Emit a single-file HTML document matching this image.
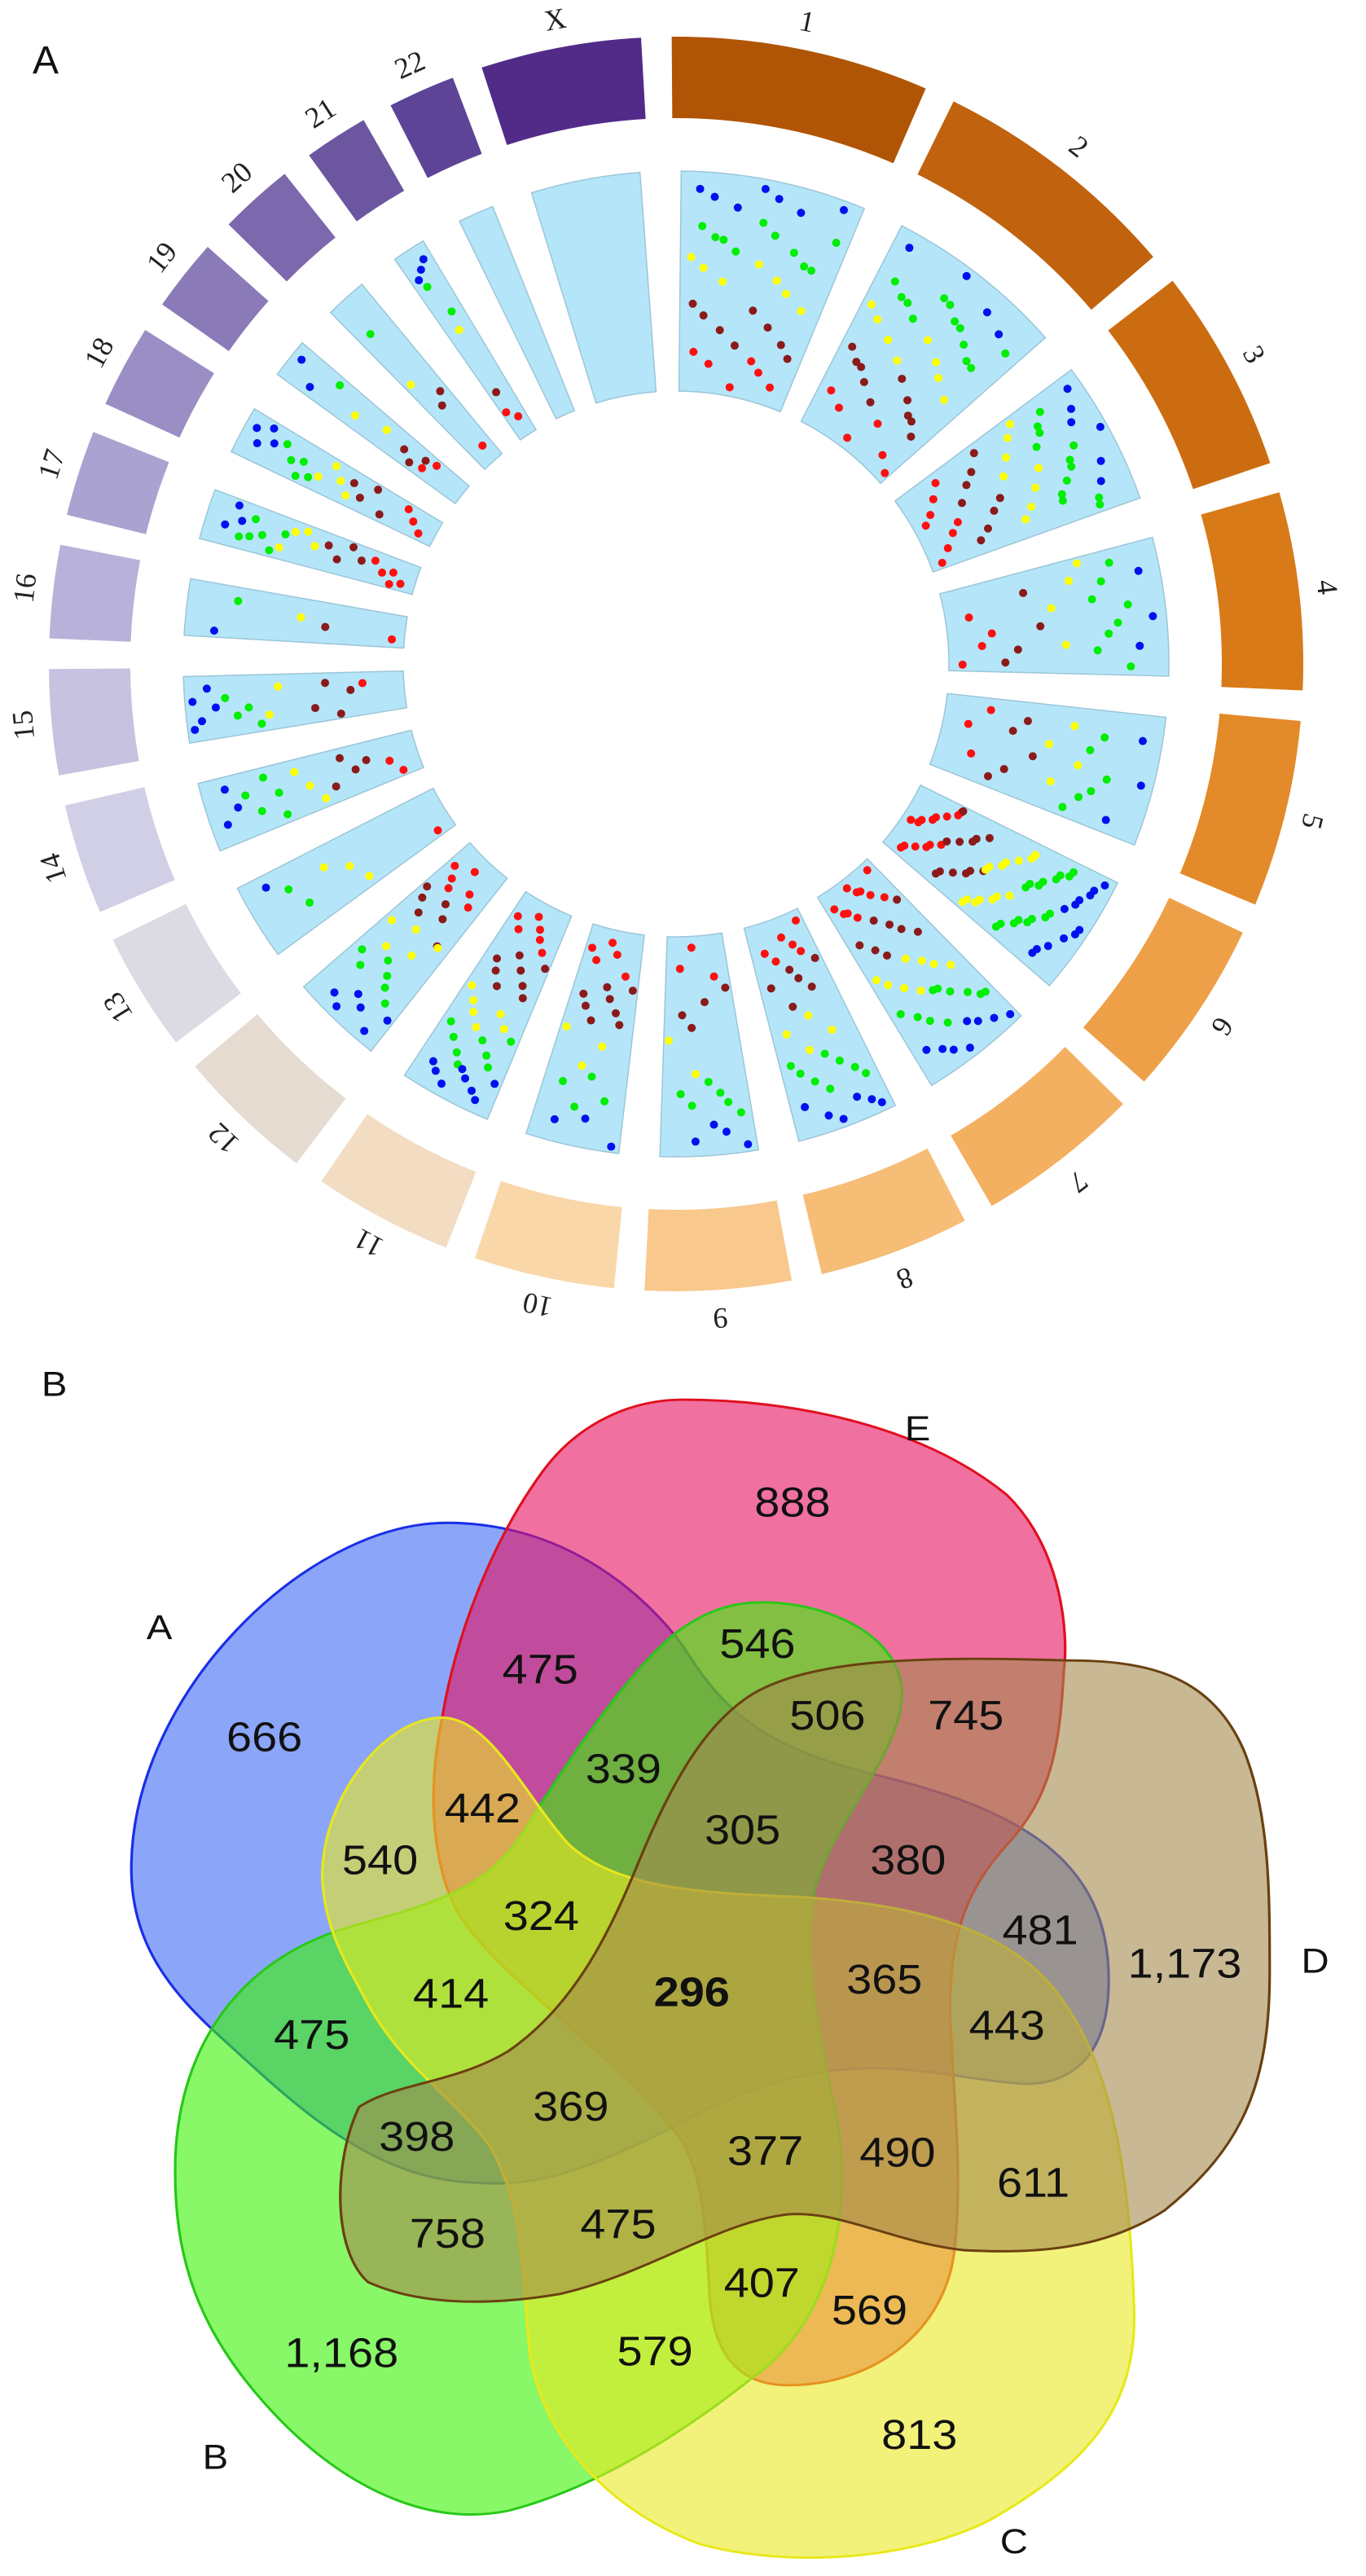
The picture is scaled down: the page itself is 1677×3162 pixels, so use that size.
<!DOCTYPE html>
<html><head><meta charset="utf-8">
<style>
html,body{margin:0;padding:0;background:#fff;}
body{width:1677px;height:3162px;position:relative;overflow:hidden;}
svg{position:absolute;left:0;}
.cl{font-family:"Liberation Serif",serif;font-size:36px;fill:#222;}
.vn{font-family:"Liberation Sans",sans-serif;font-size:52px;fill:#111;}
.vl{font-family:"Liberation Sans",sans-serif;font-size:44px;fill:#111;}
</style></head>
<body>
<svg id="circos" width="1677" height="1640" viewBox="0 0 1677 1640" style="top:0">
<text x="40" y="90" font-family="Liberation Sans, sans-serif" font-size="48" fill="#111">A</text>
<g id="ring"></g><g id="track"></g><g id="dots"></g><g id="labels"></g>
</svg>

<svg id="venn" width="1677" height="1522" viewBox="0 0 1560 1560" preserveAspectRatio="none" style="top:1640px">
<text x="62" y="60" class="vl" font-size="48" dominant-baseline="central" text-anchor="middle">B</text>
<g><path d="M150,670 C150,450 350,235 510,235 C650,235 740,330 780,390 C820,460 860,515 1000,552 C1150,592 1262,650 1266,800 C1270,930 1200,945 1160,940 C1050,930 950,880 760,1000 C650,1060 600,1070 540,1065 C420,1060 330,960 250,880 C190,820 150,760 150,670Z" fill="#3e6bf3" fill-opacity="0.6" stroke="#1a2ee8" stroke-width="3"/></g>
<g><path d="M780,80 C900,80 1050,110 1150,200 C1215,270 1220,380 1215,420 C1210,520 1200,580 1150,640 C1100,700 1085,760 1085,850 C1088,950 1100,1050 1090,1150 C1080,1250 1000,1320 900,1320 C830,1320 812,1260 810,1200 C805,1100 800,1040 770,1000 C700,900 560,800 520,720 C490,650 490,560 505,480 C520,380 560,260 620,170 C660,110 720,80 780,80Z" fill="#e61161" fill-opacity="0.6" stroke="#e01020" stroke-width="3"/></g>
<g><path d="M870,335 C950,335 1030,380 1030,450 C1030,520 960,600 935,680 C910,760 935,880 955,980 C975,1100 950,1240 860,1310 C780,1380 680,1450 580,1478 C480,1500 380,1440 300,1340 C220,1240 200,1150 200,1050 C200,900 270,780 410,740 C510,710 560,690 600,620 C650,530 720,420 770,375 C800,350 830,335 870,335Z" fill="#39f303" fill-opacity="0.6" stroke="#28c818" stroke-width="3"/></g>
<g><path d="M505,480 C560,480 600,580 650,640 C700,690 780,700 900,705 C1030,712 1150,740 1210,830 C1270,920 1290,1050 1295,1220 C1300,1350 1240,1420 1130,1490 C1040,1540 900,1550 800,1520 C700,1480 620,1390 605,1280 C595,1170 600,1100 560,1020 C520,960 460,920 420,840 C390,780 370,740 368,680 C368,580 440,480 505,480Z" fill="#e9e921" fill-opacity="0.6" stroke="#e8e81c" stroke-width="3"/></g>
<g><path d="M1215,408 C1300,408 1380,420 1420,520 C1450,600 1450,700 1450,800 C1450,940 1420,1020 1330,1100 C1260,1150 1180,1155 1100,1150 C1020,1140 960,1100 900,1105 C820,1115 740,1180 640,1205 C560,1220 480,1220 420,1190 C380,1150 380,1040 410,970 C450,940 520,940 580,900 C660,840 700,740 730,660 C760,580 800,490 860,450 C930,405 1060,403 1215,408Z" fill="#a3894d" fill-opacity="0.6" stroke="#6a4010" stroke-width="3"/></g>
<g id="vtext"></g>
<text x="182" y="366" class="vl" text-anchor="middle" dominant-baseline="central">A</text>
<text x="1048" y="116" class="vl" text-anchor="middle" dominant-baseline="central">E</text>
<text x="1502" y="786" class="vl" text-anchor="middle" dominant-baseline="central">D</text>
<text x="246" y="1410" class="vl" text-anchor="middle" dominant-baseline="central">B</text>
<text x="1158" y="1516" class="vl" text-anchor="middle" dominant-baseline="central">C</text>
</svg>

<script>
// ---- Circos data ----
const chromNames = ["1","2","3","4","5","6","7","8","9","10","11","12","13","14","15","16","17","18","19","20","21","22","X"];
const chromLengths = [249,243,198,191,181,171,159,146,141,136,135,134,115,107,102,90,83,80,70,72,62,65,155];
const chromColors = ["#b05505","#c0620e","#cc6c10","#d87a18","#e38a2a","#eea048","#f3b060","#f6bd76","#f8c88c","#fad7a8","#f2dcc2","#e6dbd0","#dcdae2","#d0cfe6","#c6c2e0","#b8b2da","#aaa2d0","#9a8ec4","#8a7ab8","#7c68ac","#6c56a0","#5e4496","#522a88"];
const redCounts    = [6,6,8,4,3,14,10,6,3,5,6,6,1,2,1,1,5,3,2,1,2,0,0];
const brownCounts  = [8,10,8,4,5,12,8,6,4,8,8,6,0,4,4,1,4,4,3,2,1,0,0];
const yellowCounts = [7,8,8,4,4,14,8,4,2,3,6,5,3,3,2,1,4,4,2,1,1,0,0];
const greenCounts  = [10,12,12,8,6,16,10,8,6,4,8,6,2,5,4,1,6,5,1,1,2,0,0];
const blueCounts   = [7,4,6,3,3,12,8,6,4,3,8,6,1,3,5,1,3,4,2,0,3,0,0];

const NS="http://www.w3.org/2000/svg";
const cx=830, cy=815, gap=2.8, start=-0.4;
function pol(r,a){const t=a*Math.PI/180;return [cx+r*Math.sin(t), cy-r*Math.cos(t)];}
function sector(r1,r2,a0,a1){
  const p1=pol(r2,a0),p2=pol(r2,a1),p3=pol(r1,a1),p4=pol(r1,a0);const lg=(a1-a0)>180?1:0;
  return `M${p1[0]},${p1[1]} A${r2},${r2} 0 ${lg} 1 ${p2[0]},${p2[1]} L${p3[0]},${p3[1]} A${r1},${r1} 0 ${lg} 0 ${p4[0]},${p4[1]} Z`;
}
const total=chromLengths.reduce((a,b)=>a+b,0);
const scale=(360-gap*chromNames.length)/total;
const ring=document.getElementById('ring'),track=document.getElementById('track'),dots=document.getElementById('dots'),labels=document.getElementById('labels');
const bands=[[redCounts,"#ff1010",345,395],[brownCounts,"#8b1a1a",395,455],[yellowCounts,"#ffff00",455,510],[greenCounts,"#00ee00",505,560],[blueCounts,"#0010ee",560,598]];
let a=start;
chromNames.forEach((nm,i)=>{
  const a0=a, a1=a+chromLengths[i]*scale; a=a1+gap;
  const p=document.createElementNS(NS,'path');
  p.setAttribute('d',sector(670,770,a0,a1));p.setAttribute('fill',chromColors[i]);
  
  
  ring.appendChild(p);
  const t=document.createElementNS(NS,'path');
  const ins=1.0;
  t.setAttribute('d',sector(335,605,a0+ins,a1-ins));t.setAttribute('fill','#b5e5f8');t.setAttribute('stroke','#9cc6d8');t.setAttribute('stroke-width','1.5');
  
  
  track.appendChild(t);
  const am=(a0+a1)/2, lp=pol(805,am);
  const tx=document.createElementNS(NS,'text');
  tx.setAttribute('x',lp[0]);tx.setAttribute('y',lp[1]);tx.setAttribute('class','cl');
  tx.setAttribute('text-anchor','middle');tx.setAttribute('dominant-baseline','central');
  tx.setAttribute('transform',`rotate(${am} ${lp[0]} ${lp[1]})`);tx.textContent=nm;
  
  
  labels.appendChild(tx);
  bands.forEach((b,bi)=>{
    const n=b[0][i];const span=(a1-a0)-2*ins-1.5;
    for(let k=0;k<n;k++){
      const f=((k+1)*0.618034+i*0.37+bi*0.21)%1;
      const g=((k+1)*0.754877+i*0.29+bi*0.53)%1;
      const ang=a0+ins+0.75+span*f;
      const r=b[2]+(b[3]-b[2])*g;
      const q=pol(r,ang);
      const c=document.createElementNS(NS,'circle');
      c.setAttribute('cx',q[0]);c.setAttribute('cy',q[1]);c.setAttribute('r',5);c.setAttribute('fill',b[1]);
      
      
      dots.appendChild(c);
    }
  });
});

// ---- Venn data ----
const regionValues = ["888","475","546","506","745","666","339","442","305","540","380","324","481","1,173","365","296","414","443","475","369","398","377","490","611","758","475","407","569","1,168","579","813"];
const regionPos = [[905,210],[617,420],[865,388],[945,478],[1103,478],[302,505],[712,545],[551,595],[848,622],[434,660],[1037,660],[618,730],[1188,748],[1353,790],[1010,810],[790,826],[515,828],[1150,868],[356,880],[652,970],[476,1008],[874,1026],[1025,1028],[1180,1066],[511,1130],[706,1118],[870,1192],[993,1226],[390,1280],[748,1278],[1050,1383]];
const vt=document.getElementById('vtext');
regionValues.forEach((v,i)=>{
  const t=document.createElementNS(NS,'text');
  t.setAttribute('x',regionPos[i][0]);t.setAttribute('y',regionPos[i][1]);
  t.setAttribute('class','vn');t.setAttribute('text-anchor','middle');t.setAttribute('dominant-baseline','central');
  if(v==="296")t.setAttribute('font-weight','bold');
  t.textContent=v;
  
  
  vt.appendChild(t);
});
</script>
</body></html>
